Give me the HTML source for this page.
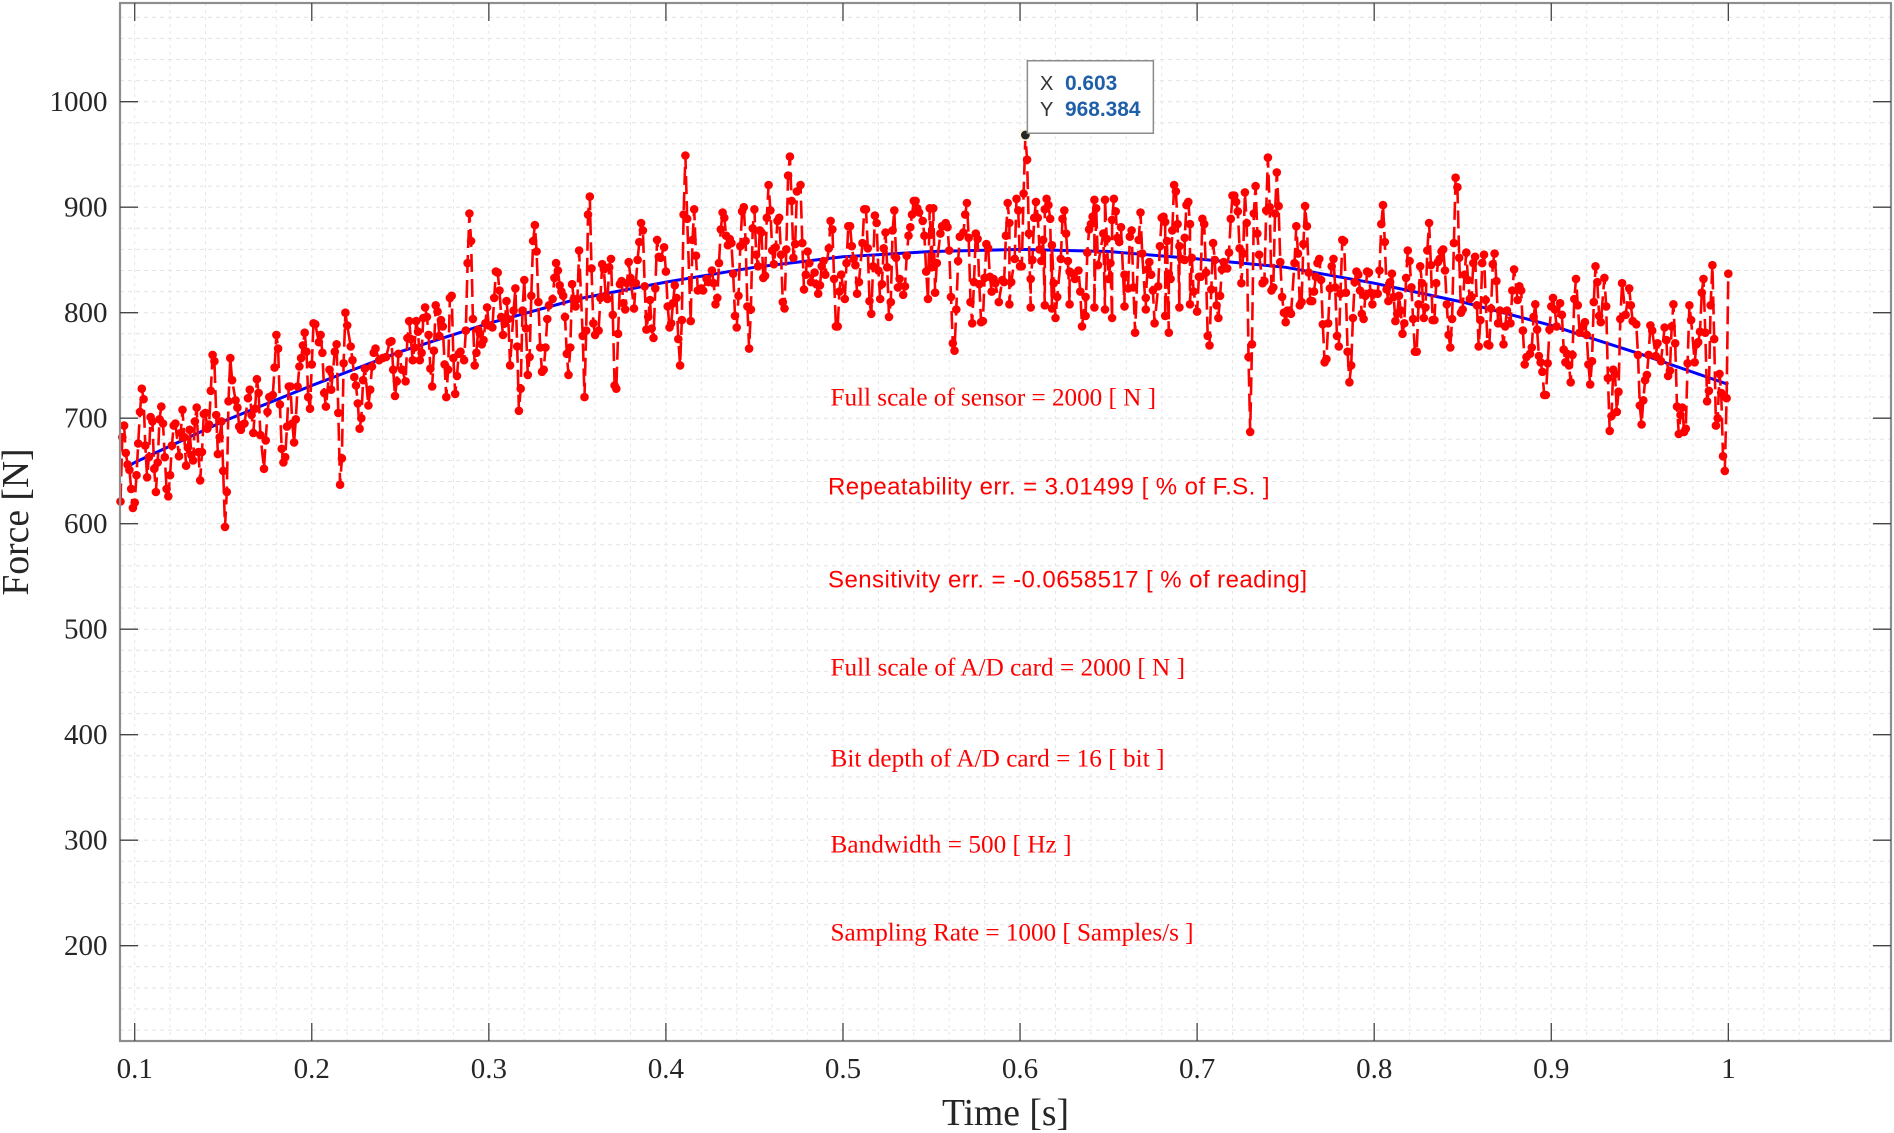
<!DOCTYPE html>
<html lang="en">
<head>
<meta charset="utf-8">
<title>Force vs Time</title>
<style>
html,body{margin:0;padding:0;background:#fff;}
svg{display:block;}
.serif{font-family:"Liberation Serif",serif;}
.sans{font-family:"Liberation Sans",sans-serif;}
</style>
</head>
<body>
<svg id="chart" xmlns="http://www.w3.org/2000/svg" width="1894" height="1133" viewBox="0 0 1894 1133">
  <rect x="0" y="0" width="1894" height="1133" fill="#ffffff"/>
  <g id="grid"></g>
  <g id="series"></g>
  <g fill="#ff0000">
    <text class="serif" x="830.5" y="405.5" font-size="25.2" textLength="325.5">Full scale of sensor = 2000 [ N ]</text>
    <text class="sans" x="828" y="494.5" font-size="24" textLength="441.5">Repeatability err. = 3.01499 [ % of F.S. ]</text>
    <text class="sans" x="828" y="587.5" font-size="24" textLength="479">Sensitivity err. = -0.0658517 [ % of reading]</text>
    <text class="serif" x="830.5" y="675.5" font-size="25.2" textLength="354.5">Full scale of A/D card = 2000 [ N ]</text>
    <text class="serif" x="830.5" y="766.5" font-size="25.2" textLength="334">Bit depth of A/D card = 16 [ bit ]</text>
    <text class="serif" x="830.5" y="852.5" font-size="25.2" textLength="241">Bandwidth = 500 [ Hz ]</text>
    <text class="serif" x="830.5" y="940.5" font-size="25.2" textLength="363">Sampling Rate = 1000 [ Samples/s ]</text>
  </g>
  <g id="axes"></g>
  <text class="serif" x="1005.5" y="1125" font-size="37.6" fill="#262626" text-anchor="middle">Time [s]</text>
  <text class="serif" transform="translate(28,522) rotate(-90)" font-size="37.6" fill="#262626" text-anchor="middle">Force [N]</text>
  <g id="tooltip"></g>
</svg>
<script>
const xTickValues = [0.1, 0.2, 0.3, 0.4, 0.5, 0.6, 0.7, 0.8, 0.9, 1];
const xTickLabels = ["0.1", "0.2", "0.3", "0.4", "0.5", "0.6", "0.7", "0.8", "0.9", "1"];
const yTickValues = [200, 300, 400, 500, 600, 700, 800, 900, 1000];
const yTickLabels = ["200", "300", "400", "500", "600", "700", "800", "900", "1000"];
const xMinorValues = [0.1,0.12,0.14,0.16,0.18,0.2,0.22,0.24,0.26,0.28,0.3,0.32,0.34,0.36,0.38,0.4,0.42,0.44,0.46,0.48,0.5,0.52,0.54,0.56,0.58,0.6,0.62,0.64,0.66,0.68,0.7,0.72,0.74,0.76,0.78,0.8,0.82,0.84,0.86,0.88,0.9,0.92,0.94,0.96,0.98,1,1.02,1.04,1.06,1.08];
const yMinorValues = [120,140,160,180,200,220,240,260,280,300,320,340,360,380,400,420,440,460,480,500,520,540,560,580,600,620,640,660,680,700,720,740,760,780,800,820,840,860,880,900,920,940,960,980,1000,1020,1040,1060,1080];

const fitTimes = [0.096,0.1,0.15,0.2,0.25,0.3,0.35,0.4,0.45,0.5,0.55,0.6,0.65,0.7,0.75,0.8,0.85,0.9,0.95,1];
const fitForces = [654,658,697,731,763,790,813,829,843,853,858,860,858,851,843,828,810,788,761,732];

const tipTime = 0.603;
const tipForce = 968.384;

const sampleTimesMs = [
92,93,94,95,96,97,98,99,100,101,
102,103,104,105,106,107,108,109,110,111,
112,113,114,115,116,117,118,119,120,121,
122,123,125,126,127,128,129,130,131,132,
133,134,135,136,137,138,139,140,141,142,
143,144,145,146,147,148,149,150,151,152,
153,154,155,157,158,159,160,161,162,164,
165,166,167,168,169,170,171,173,174,175,
176,178,179,180,181,182,183,184,185,186,
187,188,189,190,191,192,193,194,195,196,
197,198,199,200,201,202,204,205,206,207,
208,210,211,213,214,215,216,217,218,219,
220,222,223,224,225,226,227,228,229,230,
232,233,234,235,236,238,240,242,244,245,
246,247,248,249,
251,253,254,255,256,257,258,259,260,261,
262,263,264,265,266,267,268,269,270,271,
272,273,274,275,276,277,278,279,280,281,
282,283,284,286,287,288,289,290,291,292,
293,294,295,296,297,298,299,300,302,303,
304,305,306,307,308,309,310,311,312,314,
315,316,317,318,319,320,321,322,323,324,
325,326,327,328,329,330,331,332,333,334,
336,337,338,339,340,341,342,343,344,345,
346,347,348,349,350,351,353,354,355,356,
357,358,359,360,362,363,364,365,366,367,
368,369,370,371,372,373,374,375,376,377,
378,379,380,382,383,384,385,386,387,388,
389,390,391,392,393,394,395,396,397,399,
400,401,402,403,404,405,406,407,408,409,
410,411,412,414,415,416,417,418,
420,421,423,424,426,427,428,429,430,431,
432,433,434,435,436,437,438,439,440,441,
442,443,444,445,446,447,448,449,450,451,
452,453,454,455,456,457,458,459,460,461,
462,463,464,465,466,467,468,469,470,471,
472,473,474,476,477,478,479,480,481,482,
484,485,486,487,488,489,490,492,493,494,
495,496,497,498,499,501,502,503,504,505,
506,507,508,509,511,512,513,514,515,516,
517,518,519,520,521,522,523,524,525,526,
527,528,529,530,531,532,534,535,536,537,
538,539,540,541,542,543,545,546,547,548,
549,550,551,552,553,555,556,558,559,560,
561,562,563,564,565,566,568,569,570,571,
572,573,574,575,576,577,578,579,580,581,
582,583,584,585,586,588,
590,591,592,593,594,594,595,597,598,599,
600,601,602,603,604,605,606,606,607,608,
609,610,611,612,613,614,614,615,616,617,
618,618,619,620,621,623,624,625,626,627,
628,628,630,631,633,634,635,637,637,638,
639,640,641,642,642,643,644,647,648,648,
649,650,651,652,652,653,654,655,656,657,
659,659,661,662,663,664,665,667,668,669,
671,671,672,673,674,675,676,678,679,680,
681,682,682,683,684,684,685,686,687,688,
689,690,690,691,693,693,694,695,696,696,
697,698,700,701,
702,703,704,705,706,707,708,709,710,711,
712,713,714,715,717,718,719,720,721,722,
723,724,725,726,727,728,729,730,731,732,
733,734,735,737,738,739,740,741,742,743,
744,745,746,747,748,749,750,751,752,753,
755,756,757,758,759,760,761,762,763,764,
765,766,767,768,769,770,771,772,773,774,
775,776,777,778,779,780,781,782,783,784,
785,786,787,788,789,790,791,792,793,794,
795,796,797,798,799,800,802,803,804,805,
806,807,808,809,810,811,812,813,814,815,
816,817,818,819,820,821,822,823,824,825,
826,827,828,829,830,831,832,833,834,835,
836,837,838,839,840,841,842,843,844,845,
846,847,848,849,850,851,852,853,854,855,
856,857,858,859,860,861,862,863,864,865,
866,867,868,869,870,
871,873,874,875,877,878,879,881,882,883,
884,885,886,888,889,890,891,892,893,894,
895,896,897,898,899,900,901,902,903,905,
906,907,908,909,910,911,912,913,914,915,
916,918,919,920,921,922,923,924,925,926,
927,928,930,931,932,933,934,935,936,937,
938,939,940,942,944,945,946,948,949,950,
951,952,953,954,955,956,957,959,960,962,
964,965,966,967,968,969,970,971,972,973,
974,975,976,977,978,979,981,982,983,984,
985,986,987,988,989,990,991,992,993,994,
995,996,997,998,999,1000
];

const sampleForces = [
621,682,693,667,656,651,633,615,620,646,
676,706,728,718,674,644,663,701,697,652,
630,658,699,711,695,663,633,626,646,674,
693,695,664,686,708,682,655,672,689,665,
660,697,710,668,641,668,704,705,690,694,
726,760,754,703,666,682,697,650,597,630,
716,757,736,717,710,692,689,694,695,719,
727,703,686,709,737,724,684,652,679,706,
720,722,748,779,766,713,671,658,663,692,
730,730,695,677,699,730,749,757,769,781,
763,720,709,751,790,789,772,779,762,724,
711,746,727,763,770,705,637,662,752,800,
788,768,755,739,731,714,690,700,736,747,
712,727,749,762,766,755,757,758,772,773,
746,721,735,761,
746,735,776,792,775,755,767,792,782,755,
762,795,805,796,779,747,730,764,807,801,
778,793,787,751,720,746,814,816,757,723,
740,761,763,755,783,847,894,868,794,750,
762,784,780,770,774,790,805,788,786,814,
839,838,821,796,779,790,811,794,750,802,
823,768,707,728,802,831,785,741,758,816,
868,883,858,810,767,744,746,767,794,807,
813,833,847,840,826,820,816,796,761,741,
767,827,813,806,813,859,778,720,783,893,
910,842,790,779,783,814,846,841,816,813,
843,851,798,731,728,780,827,830,809,803,
828,848,833,804,828,850,867,885,878,825,
784,796,812,785,776,823,869,853,852,862,
839,806,786,790,809,826,814,775,750,793,
893,949,889,792,869,898,854,821,
823,821,832,829,840,828,808,814,847,879,
895,890,873,864,870,866,837,797,786,816,
863,896,900,868,806,766,803,880,898,855,
844,878,876,833,835,890,921,897,859,846,
862,887,890,855,810,804,860,930,948,906,
852,865,915,921,866,822,836,858,847,829,
838,827,818,826,844,849,836,861,887,879,
832,787,787,820,836,813,847,882,882,863,
851,845,818,829,866,898,898,861,811,799,
844,892,885,840,813,827,861,876,843,796,
810,878,897,852,824,832,817,825,854,873,
881,893,906,906,899,895,887,873,839,813,
899,843,899,819,847,875,882,885,881,859,
815,771,764,803,849,872,876,893,904,871,
810,790,829,875,870,827,791,792,833,865,
861,834,820,832,828,810,
831,829,873,904,885,808,829,851,908,897,
844,844,913,968,945,875,805,832,850,890,
905,890,860,849,869,807,898,908,902,889,
804,864,828,795,815,851,889,897,875,849,
808,839,837,832,840,820,787,815,797,857,
879,884,891,907,805,899,845,875,803,907,
870,832,847,795,888,908,896,871,867,881,
806,836,823,872,878,824,781,869,895,856,
803,814,841,848,836,821,790,825,863,890,
891,886,797,868,781,837,832,878,921,915,
884,805,863,851,850,871,902,905,884,808,
852,820,801,834,
834,889,884,838,778,769,822,866,850,807,
795,816,841,848,842,857,889,911,911,905,
896,861,828,856,914,885,758,687,770,894,
920,875,855,828,830,897,947,900,821,824,
894,933,901,848,815,800,791,802,802,799,
847,882,856,807,810,865,901,882,838,811,
811,820,834,847,851,831,789,753,756,790,
823,844,851,824,778,768,818,869,868,819,
763,734,750,795,829,839,836,821,799,794,
816,839,838,819,808,818,818,840,884,902,
867,822,811,829,837,815,792,799,816,802,
780,790,833,859,849,824,794,763,763,808,
844,828,795,805,859,885,845,793,793,828,
848,851,858,860,840,808,779,767,794,866,
928,919,852,800,803,836,857,831,813,815,
847,853,807,768,793,847,855,812,770,769,
804,846,856,830,790,
802,770,787,802,790,821,841,812,825,821,
783,751,758,761,767,796,808,784,759,753,
744,722,722,752,784,806,814,803,787,809,
798,765,753,761,750,734,760,813,832,807,
781,787,791,779,751,732,754,810,844,829,
797,791,833,806,738,688,702,746,742,706,
725,794,828,798,823,807,792,789,760,712,
694,717,736,741,760,788,783,759,771,754,
786,774,740,745,787,808,771,711,685,703,
710,687,690,752,807,793,753,770,772,782,
819,832,781,716,726,807,845,775,693,700,
742,724,664,650,719,837
];

const SVGNS = "http://www.w3.org/2000/svg";
const xScale = function (t) { return 134.7 + (t - 0.1) * 1770.7; };
const yScale = function (v) { return 101.7 + (1000 - v) * 1.055; };
const AX = { left: 120, right: 1891, top: 3, bottom: 1041 };

function make(tag, attrs, parent) {
  const el = document.createElementNS(SVGNS, tag);
  Object.keys(attrs).forEach(function (k) { el.setAttribute(k, attrs[k]); });
  parent.appendChild(el);
  return el;
}

const gridLayer = document.getElementById("grid");
const seriesLayer = document.getElementById("series");
const axesLayer = document.getElementById("axes");
const tipLayer = document.getElementById("tooltip");

xMinorValues.forEach(function (t) {
  const el = make("line", { x1: xScale(t), x2: xScale(t), y1: AX.top, y2: AX.bottom, stroke: "#e6e6e6", "stroke-width": 1, "stroke-dasharray": "3 4" }, gridLayer);
  
  
});
yMinorValues.forEach(function (v) {
  const el = make("line", { x1: AX.left, x2: AX.right, y1: yScale(v), y2: yScale(v), stroke: "#e4e4e4", "stroke-width": 1, "stroke-dasharray": "4 4" }, gridLayer);
  
  
});

const fitPoints = fitTimes.map(function (t, i) { return xScale(t).toFixed(1) + "," + yScale(fitForces[i]).toFixed(1); }).join(" ");
const fitLine = make("polyline", { points: fitPoints, fill: "none", stroke: "#0000ff", "stroke-width": 3 }, seriesLayer);



const sampleCount = Math.min(sampleTimesMs.length, sampleForces.length);
let measuredPoints = "";
for (let i = 0; i < sampleCount; i++) {
  measuredPoints += xScale(sampleTimesMs[i] / 1000).toFixed(1) + "," + yScale(sampleForces[i]).toFixed(1) + " ";
}
const measuredLine = make("polyline", { points: measuredPoints.trim(), fill: "none", stroke: "#ff0000", "stroke-width": 2.6, "stroke-dasharray": "18 7" }, seriesLayer);



for (let i = 0; i < sampleCount; i++) {
  const dot = make("circle", { cx: xScale(sampleTimesMs[i] / 1000).toFixed(1), cy: yScale(sampleForces[i]).toFixed(1), r: 4.3, fill: "#ff0000" }, seriesLayer);
  
  
}

const axisBox = make("rect", { x: AX.left, y: AX.top, width: AX.right - AX.left, height: AX.bottom - AX.top, fill: "none", stroke: "#8e8e8e", "stroke-width": 2.2 }, axesLayer);



xTickValues.forEach(function (t, i) {
  const x = xScale(t);
  const tickBottom = make("line", { x1: x, x2: x, y1: AX.bottom, y2: AX.bottom - 18, stroke: "#444444", "stroke-width": 1.3 }, axesLayer);
  
  
  const tickTop = make("line", { x1: x, x2: x, y1: AX.top, y2: AX.top + 18, stroke: "#444444", "stroke-width": 1.3 }, axesLayer);
  
  
  const label = make("text", { x: x, y: 1078, "font-size": 29, fill: "#262626", "text-anchor": "middle", "class": "serif" }, axesLayer);
  label.textContent = xTickLabels[i];
  
  
});

yTickValues.forEach(function (v, i) {
  const y = yScale(v);
  const tickLeft = make("line", { x1: AX.left, x2: AX.left + 18, y1: y, y2: y, stroke: "#444444", "stroke-width": 1.3 }, axesLayer);
  
  
  const tickRight = make("line", { x1: AX.right, x2: AX.right - 18, y1: y, y2: y, stroke: "#444444", "stroke-width": 1.3 }, axesLayer);
  
  
  const label = make("text", { x: 107.5, y: y + 9.5, "font-size": 29, fill: "#262626", "text-anchor": "end", "class": "serif" }, axesLayer);
  label.textContent = yTickLabels[i];
  
  
});

const tipX = xScale(tipTime);
const tipY = yScale(tipForce);
const tipHalo = make("circle", { cx: tipX, cy: tipY, r: 6, fill: "#fff8d8" }, tipLayer);


const tipDot = make("circle", { cx: tipX, cy: tipY, r: 4.4, fill: "#262626" }, tipLayer);


const tipBox = make("rect", { x: tipX + 2, y: tipY - 74.3, width: 126, height: 72.5, fill: "#ffffff", stroke: "#8c8c8c", "stroke-width": 1.5 }, tipLayer);


const tipXName = make("text", { x: 1040, y: 90, "font-size": 20, fill: "#333333", "class": "sans" }, tipLayer);
tipXName.textContent = "X";


const tipXValue = make("text", { x: 1065, y: 90, "font-size": 20.9, "font-weight": "bold", fill: "#1f5fa8", "class": "sans" }, tipLayer);
tipXValue.textContent = tipTime.toFixed(3);


const tipYName = make("text", { x: 1040, y: 116, "font-size": 20, fill: "#333333", "class": "sans" }, tipLayer);
tipYName.textContent = "Y";


const tipYValue = make("text", { x: 1065, y: 116, "font-size": 20.9, "font-weight": "bold", fill: "#1f5fa8", "class": "sans" }, tipLayer);
tipYValue.textContent = tipForce.toFixed(3);


</script>
</body>
</html>
